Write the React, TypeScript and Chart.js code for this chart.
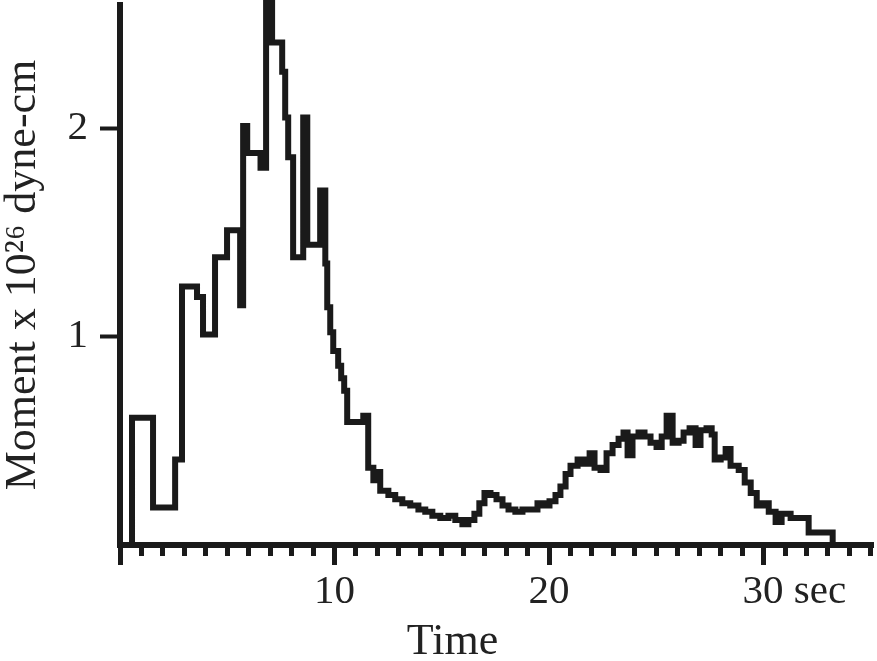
import React, { useEffect, useRef } from 'react';
import { Chart, registerables } from 'chart.js';

Chart.register(...registerables);

// Step start times (sec) and moment values (x 10^26 dyne-cm)
const times = [
  0.56, 0.56, 1.54, 2.57, 2.89, 3.59, 3.87, 4.43, 4.99, 5.6, 5.74, 5.93, 6.55, 6.81, 7.09,
  7.56, 7.7, 7.84, 8.07, 8.54, 8.73, 9.33, 9.57, 9.66, 9.8, 9.94, 10.17, 10.31, 10.45, 10.59,
  11.34, 11.57, 11.81, 11.95, 12.13, 12.51, 12.83, 13.16, 13.53, 13.91, 14.23, 14.56, 14.93,
  15.31, 15.63, 15.96, 16.24, 16.52, 16.75, 16.99, 17.27, 17.55, 17.83, 18.11, 18.43, 18.76,
  19.13, 19.46, 19.74, 20.02, 20.3, 20.53, 20.77, 21.0, 21.33, 21.61, 21.89, 22.12, 22.4,
  22.68, 22.96, 23.24, 23.47, 23.66, 23.89, 24.17, 24.45, 24.73, 25.01, 25.25, 25.48, 25.76,
  26.04, 26.27, 26.55, 26.83, 27.06, 27.34, 27.58, 27.72, 28.0, 28.23, 28.46, 28.84, 29.12,
  29.4, 29.68, 29.96, 30.24, 30.56, 30.84, 31.26, 32.1, 33.22,
];
const moments = [
  0, 0.61, 0.18, 0.41, 1.24, 1.19, 1.01, 1.38, 1.51, 1.15, 2.01, 1.88, 1.81, 2.6, 2.41,
  2.27, 2.05, 1.86, 1.38, 2.05, 1.44, 1.7, 1.35, 1.14, 1.02, 0.93, 0.86, 0.8, 0.74, 0.59,
  0.62, 0.37, 0.31, 0.35, 0.26, 0.24, 0.22, 0.2, 0.19, 0.17, 0.16, 0.14, 0.13,
  0.14, 0.12, 0.1, 0.12, 0.15, 0.2, 0.25, 0.24, 0.22, 0.19, 0.17, 0.16, 0.17,
  0.17, 0.2, 0.19, 0.21, 0.24, 0.28, 0.34, 0.38, 0.41, 0.39, 0.44, 0.37, 0.36,
  0.44, 0.48, 0.51, 0.54, 0.43, 0.52, 0.54, 0.52, 0.49, 0.47, 0.52, 0.62, 0.49,
  0.5, 0.54, 0.56, 0.48, 0.55, 0.56, 0.53, 0.41, 0.42, 0.46, 0.38, 0.36, 0.3,
  0.25, 0.19, 0.2, 0.16, 0.11, 0.15, 0.13, 0.06, 0,
];

const xMajorTicks = [0, 10, 20, 30];
const xTickLabels = ['', '10', '20', '      30 sec'];
const xMinorTicks = [1, 2, 3, 4, 5, 6, 7, 8, 9, 11, 12, 13, 14, 15, 16, 17, 18, 19, 21, 22, 23, 24, 25, 26, 27, 28, 29, 31, 32, 33, 34, 35];
const yTicks = [1, 2];
const yTickLabels = ['1', '2'];
const xTitle = 'Time';
const yTitle = 'Moment x 10²⁶ dyne-cm';

const INK = '#1a1a1a';
const TEXT = '#222222';
const SERIF = '"Liberation Serif", "Times New Roman", serif';

export default function App() {
  const ref = useRef<HTMLCanvasElement | null>(null);

  useEffect(() => {
    const canvas = ref.current;
    if (!canvas) return;
    const points = times.map((t, i) => ({ x: t, y: moments[i] }));
    const chart = new Chart(canvas, {
      type: 'line',
      data: {
        datasets: [
          {
            data: points,
            xAxisID: 'x',
            yAxisID: 'y',
            stepped: 'before',
            borderColor: INK,
            borderWidth: 6,
            pointRadius: 0,
            fill: false,
            borderJoinStyle: 'miter',
            borderCapStyle: 'butt',
            clip: false,
          } as any,
        ],
      },
      options: {
        animation: false,
        responsive: false,
        devicePixelRatio: 1,
        layout: { padding: { top: 5, right: 4, left: 0, bottom: 0 } },
        plugins: { legend: { display: false }, tooltip: { enabled: false } },
        scales: {
          x: {
            type: 'linear',
            position: 'bottom',
            min: 0,
            max: 35.1,
            afterBuildTicks: (s: any) => {
              s.ticks = xMajorTicks.map((v) => ({ value: v }));
            },
            afterFit: (s: any) => {
              s.height = 116;
              s.paddingLeft = 0;
              s.paddingRight = 0;
            },
            ticks: {
              autoSkip: false,
              maxRotation: 0,
              minRotation: 0,
              padding: 7,
              color: TEXT,
              font: { family: SERIF, size: 41, lineHeight: 1 },
              callback: (v: any) => {
                const i = xMajorTicks.indexOf(Number(v));
                return i >= 0 ? xTickLabels[i] : '';
              },
            },
            grid: {
              drawOnChartArea: false,
              drawTicks: true,
              tickLength: 20,
              tickWidth: 5,
              tickColor: INK,
            },
            border: { display: true, width: 6, color: INK },
            title: {
              display: true,
              text: xTitle + '        ',
              color: TEXT,
              font: { family: SERIF, size: 44, lineHeight: 1 },
              padding: { top: 0, bottom: -3 },
            },
          },
          xMinor: {
            type: 'linear',
            axis: 'x',
            position: { y: 0 },
            min: 0,
            max: 35.1,
            afterBuildTicks: (s: any) => {
              s.ticks = xMinorTicks.map((v) => ({ value: v }));
            },
            ticks: { display: false },
            grid: {
              drawOnChartArea: false,
              drawTicks: true,
              tickLength: 11,
              tickWidth: 5,
              tickColor: INK,
            },
            border: { display: false },
          } as any,
          y: {
            type: 'linear',
            position: 'left',
            min: 0,
            max: 2.59,
            afterBuildTicks: (s: any) => {
              s.ticks = yTicks.map((v) => ({ value: v }));
            },
            afterFit: (s: any) => {
              s.width = 120;
              s.paddingTop = 0;
              s.paddingBottom = 0;
            },
            ticks: {
              padding: 12,
              color: TEXT,
              font: { family: SERIF, size: 41, lineHeight: 1 },
              callback: (v: any) => {
                const i = yTicks.indexOf(Number(v));
                return i >= 0 ? yTickLabels[i] : '';
              },
            },
            grid: {
              drawOnChartArea: false,
              drawTicks: true,
              tickLength: 20,
              tickWidth: 4,
              tickColor: INK,
            },
            border: { display: true, width: 6, color: INK },
            title: {
              display: true,
              text: yTitle,
              color: TEXT,
              font: { family: SERIF, size: 44, lineHeight: 1 },
              padding: { top: 1, bottom: 0 },
            },
          },
        },
      } as any,
    });
    return () => chart.destroy();
  }, []);

  return (
    <div style={{ position: 'absolute', left: 0, top: 0, width: 877, height: 661, background: '#fff' }}>
      <canvas ref={ref} width={877} height={661} style={{ display: 'block' }} />
    </div>
  );
}
